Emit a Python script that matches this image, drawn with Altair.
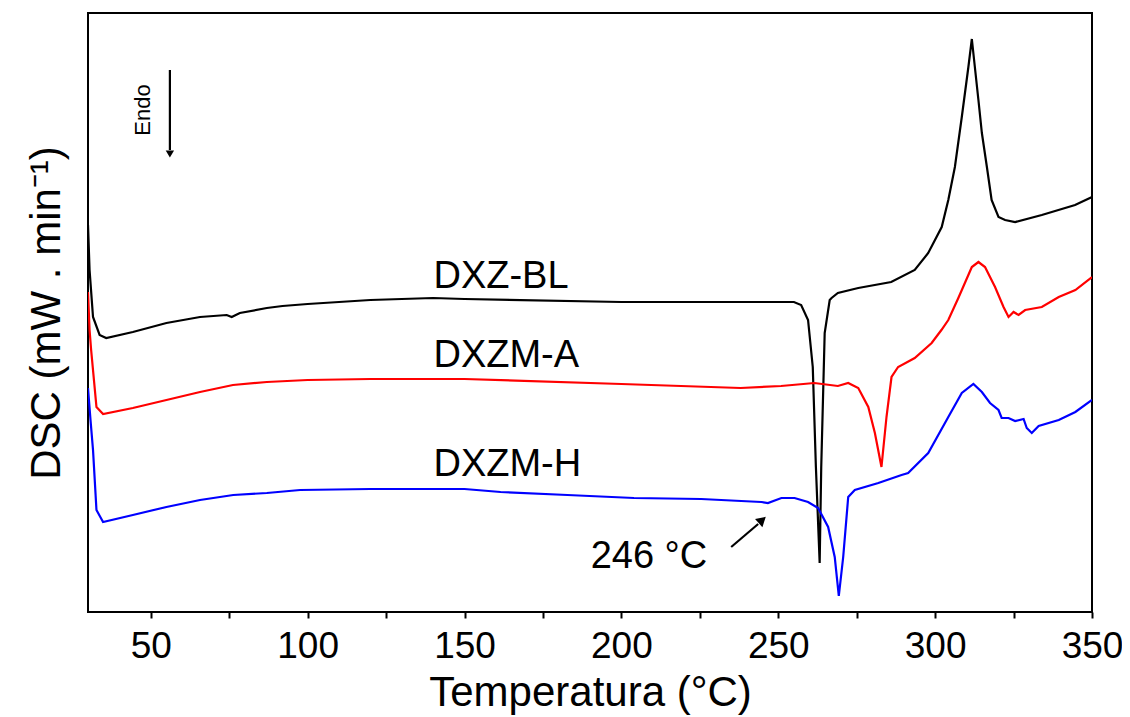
import altair as alt
import pandas as pd

# ---------------- data ----------------
series_names = ["DXZ-BL", "DXZM-A", "DXZM-H"]
series_colors = ["#000000", "#ff0000", "#0000ff"]

bl_temp = [30, 30.5, 31.6, 33.7, 35.8, 44.3, 55, 65.7, 74.2, 75.8, 78.4, 87, 92, 100,
           120, 140, 150, 200, 240, 255, 257.3, 259.5, 261, 262, 263.2, 263.7, 264.8,
           266.4, 267, 269, 275.5, 286, 293.5, 297.8, 302.1, 304.2, 306.3, 308.5,
           310.6, 311.7, 313.8, 314.9, 316.5, 318, 320.2, 322.3, 325.5, 334, 344.6, 350]
bl_dsc = [387, 342, 295, 277, 274, 280, 289, 295, 297, 295, 299, 304, 306, 308,
          312, 314, 313, 310, 310, 310, 307, 292, 245, 145, 49, 145, 279,
          312, 314, 319, 324, 330, 342, 359, 385, 412, 445, 495,
          545, 573, 512, 479, 445, 412, 395, 392, 390, 397, 407, 415]

a_temp = [30, 30.5, 31, 32.7, 34.8, 44.3, 55, 65.7, 76.2, 87, 100, 120, 150, 200,
          238, 250.9, 261.5, 269, 272.3, 275.5, 278.7, 280.8, 282.9, 284.5, 286.1,
          288.2, 293.5, 298.9, 302, 304.2, 307.4, 311.7, 313.8, 315.9, 319.1, 321.8,
          323.4, 325, 326.6, 328.7, 334, 339.4, 344.7, 350]
a_dsc = [320, 282, 262, 205, 198, 204, 212, 220, 227, 230, 232, 233, 233, 228,
         224, 226, 229, 226, 229, 224, 205, 179, 145, 195, 235,
         245, 254, 269, 282, 292, 314, 345, 350, 345, 325, 305,
         295, 300, 297, 302, 305, 315, 322, 335]

h_temp = [30, 30.8, 31.6, 32.7, 34.8, 44.3, 55, 65.7, 76.3, 87, 97.6, 120, 150, 161.5,
          182.8, 204, 225.4, 244.6, 246.7, 251, 255.2, 259.5, 262.7, 265.9, 268, 269.3,
          270.7, 272.3, 274.4, 281.9, 289.3, 291.4, 297.8, 304.2, 308.5, 312.2, 314.9,
          317.5, 320.2, 321.2, 323.4, 325.5, 328.2, 329.2, 330.8, 333, 339.4, 344.7, 350]
h_dsc = [224, 192, 162, 102, 90, 97, 105, 112, 117, 119, 122, 123, 123, 120,
         117, 114, 113, 110, 109, 114, 114, 110, 104, 85, 55, 16,
         55, 115, 122, 129, 137, 139, 159, 195, 219, 228, 220,
         209, 202, 194, 194, 191, 193, 184, 179, 186, 192, 200, 212]

label_text = ["DXZ-BL", "DXZM-A", "DXZM-H", "246 °C"]
label_temp = [140.1, 140.1, 140.1, 190.2]
label_dsc = [324, 245, 136, 44]

endo_text = ["Endo"]
endo_temp = [47.6]
endo_dsc = [502]

arrow_temp = [56.1, 235.0]
arrow_dsc = [542, 65]
arrow_temp2 = [56.1, 243.6]
arrow_dsc2 = [462, 88]

head_temp = [56.1, 244.9]
head_dsc = [458, 92]
head_shape = ["triangle-down", "triangle-up"]
head_angle = [0, 48]
head_size = [70, 120]

x_ticks = [50, 75, 100, 125, 150, 175, 200, 225, 250, 275, 300, 325, 350]

# ---------------- tables ----------------
rows = []
for name, ts, vs in zip(series_names, [bl_temp, a_temp, h_temp], [bl_dsc, a_dsc, h_dsc]):
    for i, (t, v) in enumerate(zip(ts, vs)):
        rows.append({"series": name, "temp": t, "dsc": v, "idx": i})
curves = pd.DataFrame(rows)

labels = pd.DataFrame({"text": label_text, "temp": label_temp, "dsc": label_dsc})
endo = pd.DataFrame({"text": endo_text, "temp": endo_temp, "dsc": endo_dsc})
arrows = pd.DataFrame({"temp": arrow_temp, "dsc": arrow_dsc,
                       "temp2": arrow_temp2, "dsc2": arrow_dsc2})
heads = pd.DataFrame({"temp": head_temp, "dsc": head_dsc,
                      "shape": head_shape, "angle": head_angle, "size": head_size})

FONT = "Liberation Sans, Arial, sans-serif"

x_scale = alt.Scale(domain=[30, 350], nice=False, zero=False)
y_scale = alt.Scale(domain=[0, 599], nice=False, zero=False)

x_axis = alt.Axis(values=x_ticks, grid=False, domain=False, ticks=True, tickSize=6,
                  tickWidth=2, tickColor="black",
                  labelExpr="datum.value % 50 == 0 ? datum.label : ''",
                  labelFont=FONT, labelFontSize=37, labelColor="black",
                  labelPadding=10, labelFlush=False,
                  titleFont=FONT, titleFontSize=42, titleFontWeight="normal",
                  titleColor="black", titlePadding=8)
y_axis = alt.Axis(labels=False, ticks=False, domain=False, grid=False,
                  titleFont=FONT, titleFontSize=42, titleFontWeight="normal",
                  titleColor="black", titlePadding=20)

X = alt.X("temp:Q", scale=x_scale, axis=x_axis, title="Temperatura (°C)")
Y = alt.Y("dsc:Q", scale=y_scale, axis=y_axis, title="DSC (mW . min⁻¹)")

lines = alt.Chart(curves).mark_line(strokeWidth=2.2, clip=True).encode(
    x=X, y=Y,
    color=alt.Color("series:N", scale=alt.Scale(domain=series_names, range=series_colors),
                    legend=None),
    detail="series:N",
    order="idx:Q",
)

text_layer = alt.Chart(labels).mark_text(
    align="left", baseline="alphabetic", fontSize=38, font=FONT, color="black"
).encode(x=X, y=Y, text="text:N")

endo_layer = alt.Chart(endo).mark_text(
    align="center", baseline="middle", fontSize=22, font=FONT, color="black", angle=270
).encode(x=X, y=Y, text="text:N")

arrow_layer = alt.Chart(arrows).mark_rule(color="black", strokeWidth=2.2).encode(
    x=X, y=Y, x2="temp2:Q", y2="dsc2:Q"
)

head_layer = alt.Chart(heads).mark_point(
    filled=True, color="black", opacity=1
).encode(
    x=X, y=Y,
    shape=alt.Shape("shape:N", scale=None, legend=None),
    angle=alt.Angle("angle:Q", scale=None),
    size=alt.Size("size:Q", scale=None, legend=None),
)

chart = alt.layer(lines, arrow_layer, head_layer, text_layer, endo_layer).properties(
    width=1004, height=599,
    autosize=alt.AutoSizeParams(type="none"),
    padding={"left": 80, "top": 5, "right": 30, "bottom": 104},
    background="white",
).configure_view(stroke="black", strokeWidth=2, strokeOpacity=1)

chart.save("out.html", embed_options={"renderer": "svg", "actions": False})
